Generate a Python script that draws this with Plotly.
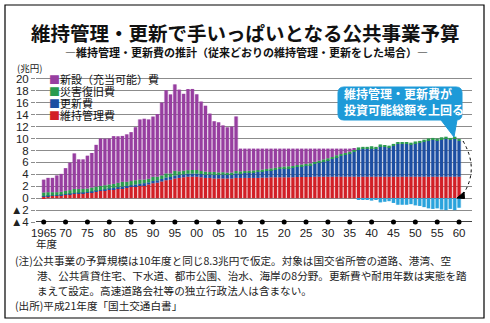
import numpy as np
import plotly.graph_objects as go

years = list(range(1965, 2061))

# 維持管理費
maint = [0.3, 0.35, 0.4, 0.45, 0.5, 0.6, 0.65, 0.75, 0.8, 0.85,
         0.9, 1.0, 1.1, 1.2, 1.3, 1.4, 1.5, 1.6, 1.7, 1.8,
         1.9, 2.0, 2.1, 2.2, 2.3, 2.5, 2.6, 2.8, 3.0, 3.1,
         3.3, 3.4, 3.5, 3.6, 3.6, 3.6, 3.5, 3.4, 3.4, 3.3,
         3.3, 3.3, 3.3, 3.3, 3.4,
         3.4, 3.4, 3.4, 3.4, 3.4, 3.45, 3.45, 3.5, 3.5, 3.5,
         3.5, 3.5, 3.5, 3.55, 3.55, 3.55, 3.55, 3.6, 3.6, 3.6,
         3.6, 3.6, 3.6, 3.6, 3.6, 3.6, 3.6,
         3.6, 3.6, 3.6, 3.6, 3.6, 3.6, 3.6, 3.6, 3.6, 3.6, 3.6, 3.6,
         3.6, 3.6, 3.6, 3.6, 3.6, 3.6, 3.6, 3.6, 3.6, 3.6, 3.6, 3.6]

# 更新費
renew = [0.05, 0.05, 0.05, 0.06, 0.07, 0.08, 0.09, 0.1, 0.1, 0.1,
         0.12, 0.13, 0.14, 0.15, 0.17, 0.2, 0.2, 0.22, 0.24, 0.25,
         0.27, 0.3, 0.3, 0.32, 0.35, 0.38, 0.4, 0.42, 0.45, 0.45,
         0.48, 0.5, 0.5, 0.5, 0.52, 0.52, 0.55, 0.55, 0.58, 0.6,
         0.62, 0.65, 0.68, 0.7, 0.75,
         0.8, 0.85, 0.9, 0.95, 1.0, 1.05, 1.15, 1.2, 1.3, 1.4,
         1.5, 1.55, 1.6, 1.7, 1.8, 1.9, 2.0, 2.2, 2.4, 2.6,
         2.8, 3.0, 3.3, 3.5, 3.7, 3.9, 4.2,
         4.6, 4.7, 4.7, 4.8, 4.7, 5.1, 5.0, 4.9, 5.2, 5.5, 5.5, 5.5,
         5.4, 5.6, 5.7, 5.9, 6.1, 6.2, 6.1, 6.3, 6.4, 6.2, 6.4, 6.0]

# 災害復旧費
disaster = [0.6, 0.6, 0.55, 0.5, 0.5, 0.55, 0.6, 0.7, 0.65, 0.6,
            0.6, 0.65, 0.7, 0.7, 0.7, 0.7, 0.7, 0.75, 0.8, 0.7,
            0.7, 0.7, 0.7, 0.6, 0.6, 0.7, 0.6, 0.6, 0.7, 0.6,
            0.8, 0.6, 0.6, 0.6, 0.6, 0.6, 0.5, 0.5, 0.4, 0.5,
            0.4, 0.4, 0.3, 0.3, 0.4,
            0.3, 0.3, 0.3, 0.3, 0.3, 0.3, 0.3, 0.3, 0.3, 0.3,
            0.3, 0.3, 0.3, 0.3, 0.3, 0.3, 0.3, 0.3, 0.3, 0.3,
            0.3, 0.3, 0.3, 0.3, 0.3, 0.3, 0.3,
            0.3, 0.3, 0.3, 0.3, 0.3, 0.3, 0.3, 0.3, 0.3, 0.3, 0.3, 0.3,
            0.3, 0.3, 0.3, 0.3, 0.3, 0.3, 0.3, 0.3, 0.3, 0.3, 0.3, 0.3]

# 新設(充当可能)費
new_con = [2.15, 2.4, 2.4, 2.8, 3.0, 3.8, 4.6, 5.95, 4.95, 4.95,
           5.5, 5.8, 7.0, 7.95, 7.8, 7.7, 8.0, 7.8, 7.7, 7.95,
           8.2, 8.9, 10.1, 10.2, 9.95, 10.1, 10.5, 12.2, 13.95, 13.25,
           14.5, 13.7, 12.9, 13.6, 13.6, 12.7, 11.65, 11.05, 9.8, 8.5,
           8.4, 7.85, 7.6, 7.7, 9.15,
           3.8, 3.75, 3.7, 3.65, 3.6, 3.5, 3.4, 3.3, 3.2, 3.1,
           3.0, 2.95, 2.9, 2.75, 2.65, 2.55, 2.45, 2.2, 2.0, 1.8,
           1.6, 1.4, 1.1, 0.9, 0.7, 0.5, 0.2,
           0, 0, 0, 0, 0, 0, 0, 0, 0, 0, 0, 0,
           0, 0, 0, 0, 0, 0, 0, 0, 0, 0, 0, 0]

# 投資可能総額を上回る分
shortfall = [0] * 72 + [-0.2, -0.3, -0.3, -0.4, -0.3, -0.7, -0.6, -0.5, -0.8, -1.1, -1.1, -1.1,
                        -1.0, -1.2, -1.3, -1.5, -1.7, -1.8, -1.7, -1.9, -2.0, -1.8, -2.0, -1.6]

x_tickvals = list(range(1965, 2061, 5))
x_ticktext = ["1965", "70", "75", "80", "85", "90", "95", "00", "05", "10",
              "15", "20", "25", "30", "35", "40", "45", "50", "55", "60"]
y_tickvals = [-4, -2, 0, 2, 4, 6, 8, 10, 12, 14, 16, 18, 20]
y_ticktext = ["▲4", "▲2", "0", "2", "4", "6", "8", "10", "12", "14", "16", "18", "20"]

legend_items = ["新設（充当可能）費", "災害復旧費", "更新費", "維持管理費"]

RED = "#d21f26"
BLUE = "#1c4ea2"
GREEN = "#2a9a4e"
PURPLE = "#973ea0"
LBLUE = "#2aa3dc"
CALLOUT = "#1e9ad8"

JP = "Noto Sans CJK JP"
NUM = "Liberation Sans, Noto Sans CJK JP"

W, H = 490, 323
L, R, T, B = 36, 18, 70, 101
PW, PH = W - L - R, H - T - B


def px(xp):
    return (xp - L) / PW


def py(yp):
    return (H - B - yp) / PH


fig = go.Figure()


def add_layer(width, opacity):
    base = np.zeros(len(years))
    for vals, col in [(maint, RED), (renew, BLUE), (disaster, GREEN), (new_con, PURPLE)]:
        fig.add_bar(x=years, y=vals, base=base.copy(), width=width, opacity=opacity,
                    marker=dict(color=col, line_width=0), showlegend=False, hoverinfo="skip")
        base = base + np.array(vals)
    fig.add_bar(x=years, y=shortfall, base=0, width=width, opacity=opacity,
                marker=dict(color=LBLUE, line_width=0), showlegend=False, hoverinfo="skip")


add_layer(1.0, 0.32)
add_layer(0.7, 1.0)

# dots on the axis
fig.add_scatter(x=x_tickvals, y=[-4] * len(x_tickvals), mode="markers",
                marker=dict(color="black", size=5), cliponaxis=False,
                showlegend=False, hoverinfo="skip")

fig.update_layout(
    width=W, height=H,
    margin=dict(l=L, r=R, t=T, b=B, autoexpand=False),
    barmode="overlay",
    plot_bgcolor="white", paper_bgcolor="white",
    font=dict(family=NUM, size=11, color="#222"),
    xaxis=dict(range=[1963.24, 2062.96], tickvals=x_tickvals, ticktext=x_ticktext,
               showgrid=False, zeroline=False, showline=False, ticks="",
               tickfont=dict(size=11.5, family=NUM, color="#222"), ticklabelstandoff=2),
    yaxis=dict(range=[-4, 21.5], tickvals=y_tickvals, ticktext=y_ticktext,
               showgrid=True, gridcolor="#8c8c8c", gridwidth=1,
               zeroline=True, zerolinecolor="#8c8c8c", zerolinewidth=1,
               ticks="outside", ticklen=4, tickcolor="#8c8c8c",
               tickfont=dict(size=11.5, family=NUM, color="#222"), showline=False),
)

shapes = []
# white backdrop for the legend block (above grid, below bars)
shapes.append(dict(type="rect", xref="paper", yref="paper",
                   x0=px(48), x1=px(156), y0=py(151), y1=py(74),
                   fillcolor="white", line=dict(width=0), layer="between"))
# black axis line at ▲4
shapes.append(dict(type="line", xref="paper", yref="y", x0=0, x1=1, y0=-4, y1=-4,
                   line=dict(color="black", width=1.5), layer="above"))
# outer frame
shapes.append(dict(type="rect", xref="paper", yref="paper",
                   x0=px(5), x1=px(484), y0=py(318), y1=py(5),
                   line=dict(color="black", width=1.2)))

# callout box with rounded corners and pointer
bx0, bx1, by0, by1, r = 338, 462, 87, 120, 6
tipx, tipy = 454, 137
p = (f"M {px(bx0 + r)},{py(by0)} L {px(bx1 - r)},{py(by0)} "
     f"Q {px(bx1)},{py(by0)} {px(bx1)},{py(by0 + r)} "
     f"L {px(bx1)},{py(by1 - r)} Q {px(bx1)},{py(by1)} {px(bx1 - r)},{py(by1)} "
     f"L {px(457)},{py(by1)} L {px(tipx)},{py(tipy)} L {px(441)},{py(by1)} "
     f"L {px(bx0 + r)},{py(by1)} Q {px(bx0)},{py(by1)} {px(bx0)},{py(by1 - r)} "
     f"L {px(bx0)},{py(by0 + r)} Q {px(bx0)},{py(by0)} {px(bx0 + r)},{py(by0)} Z")
shapes.append(dict(type="path", xref="paper", yref="paper", path=p,
                   fillcolor=CALLOUT, line=dict(color=CALLOUT, width=1), layer="above"))
# dotted arc
arc = f"M {px(463)},{py(141)} Q {px(480)},{py(170)} {px(462)},{py(196)}"
shapes.append(dict(type="path", xref="paper", yref="paper", path=arc,
                   line=dict(color="black", width=1, dash="dot"), layer="above"))
head = (f"M {px(457)},{py(198)} L {px(464)},{py(192)} L {px(464.5)},{py(198.5)} Z")
shapes.append(dict(type="path", xref="paper", yref="paper", path=head,
                   fillcolor="black", line=dict(color="black", width=1), layer="above"))
fig.update_layout(shapes=shapes)

ann = []
# title
ann.append(dict(text="<b>維持管理・更新で手いっぱいとなる公共事業予算</b>", x=px(245), y=py(33),
                xref="paper", yref="paper", showarrow=False, xanchor="center", yanchor="middle",
                font=dict(family=JP, size=19.5, color="#111")))
ann.append(dict(text="<b>―維持管理・更新費の推計（従来どおりの維持管理・更新をした場合）―</b>",
                x=px(246), y=py(52), xref="paper", yref="paper", showarrow=False,
                xanchor="center", yanchor="middle", font=dict(family=JP, size=11, color="#111")))
# unit
ann.append(dict(text="(兆円)", x=px(15), y=py(68), xref="paper", yref="paper", showarrow=False,
                xanchor="left", yanchor="middle", font=dict(family=JP, size=9.5, color="#222")))
# legend
for name, col, yv in zip(legend_items, [PURPLE, GREEN, BLUE, RED], [20, 18, 16, 14]):
    ann.append(dict(text=f'<span style="color:{col}">■</span>{name}', x=px(48), y=yv,
                    xref="paper", yref="y", showarrow=False, xanchor="left", yanchor="middle",
                    borderpad=0, font=dict(family=JP, size=11, color="#111")))
# callout text
ann.append(dict(text="<b>維持管理・更新費が<br>投資可能総額を上回る</b>", x=px(342), y=py(101),
                xref="paper", yref="paper", showarrow=False, xanchor="left", yanchor="middle",
                align="left", font=dict(family=JP, size=12, color="white")))
# 年度
ann.append(dict(text="年度", x=px(34), y=py(243), xref="paper", yref="paper", showarrow=False,
                xanchor="left", yanchor="middle", font=dict(family=JP, size=10.5, color="#222")))
# notes
notes = [
    (13, 260, "(注)公共事業の予算規模は10年度と同じ8.3兆円で仮定。対象は国交省所管の道路、港湾、空"),
    (35, 275, "港、公共賃貸住宅、下水道、都市公園、治水、海岸の8分野。更新費や耐用年数は実態を踏"),
    (35, 290, "まえて設定。高速道路会社等の独立行政法人は含まない。"),
    (13, 305, "(出所)平成21年度「国土交通白書」"),
]
for xx, yy, t in notes:
    ann.append(dict(text=t, x=px(xx), y=py(yy), xref="paper", yref="paper", showarrow=False,
                    xanchor="left", yanchor="middle", font=dict(family=JP, size=10.6, color="#222")))
fig.update_layout(annotations=ann)

fig.write_html("out.html")
